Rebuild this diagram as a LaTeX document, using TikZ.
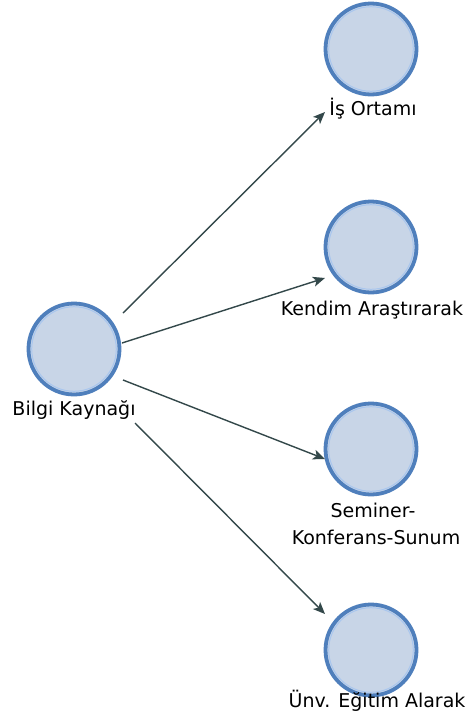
\documentclass[tikz,border=0pt]{standalone}
\usepackage{fontspec}
\setmainfont{DejaVu Sans}
\usetikzlibrary{arrows.meta}
\definecolor{cfill}{HTML}{C8D5E7}
\definecolor{cring}{HTML}{4F7FBC}
\definecolor{cinner}{HTML}{A9C6EE}
\definecolor{carrow}{HTML}{33484A}
\tikzset{
  bubble/.style={circle, minimum size=91pt, inner sep=0pt, fill=cfill, draw=cring, line width=3.8pt},
  lbl/.style={font=\fontsize{19}{27}\selectfont, inner sep=0pt, anchor=base, text=black},
  conn/.style={draw=carrow, line width=1.4pt, -{Stealth[length=12pt,width=10pt,inset=3pt]}}
}
\begin{document}
\begin{tikzpicture}[x=1pt,y=-1pt]
\useasboundingbox (0,0) rectangle (466,726);
\fill[white] (0,0) rectangle (466,726);
% circles
\node[bubble] (B) at (74,349) {};
\node[bubble] (I) at (371,49) {};
\node[bubble] (K) at (371,247) {};
\node[bubble] (S) at (371,449) {};
\node[bubble] (U) at (371,650) {};
\foreach \n in {B,I,K,S,U}{
  \draw[cinner, line width=1pt] (\n.center) circle (42.3pt);
}
% labels
\node[lbl] (LB) at (74,415) {Bilgi Kaynağı};
\node[lbl] (LI) at (373,115) {İş Ortamı};
\node[lbl] (LK) at (372,315) {Kendim Araştırarak};
\node[lbl] (LS1) at (373,517) {Seminer-};
\node[lbl] (LS2) at (376,544) {Konferans-Sunum};
\node[lbl] (LU) at (377,707) {Ünv. Eğitim Alarak};
% connector endpoints
\coordinate (s1) at (123,313);
\coordinate (e1) at (325,112);
\coordinate (s2) at (122,343);
\coordinate (e2) at (325,278);
\coordinate (s3) at (123,380);
\coordinate (e3) at (325,459);
\coordinate (s4) at (135,423);
\coordinate (e4) at (325,614);
\draw[conn] (s1) -- (e1);
\draw[conn] (s2) -- (e2);
\draw[conn] (s3) -- (e3);
\draw[conn] (s4) -- (e4);
\end{tikzpicture}
\end{document}
